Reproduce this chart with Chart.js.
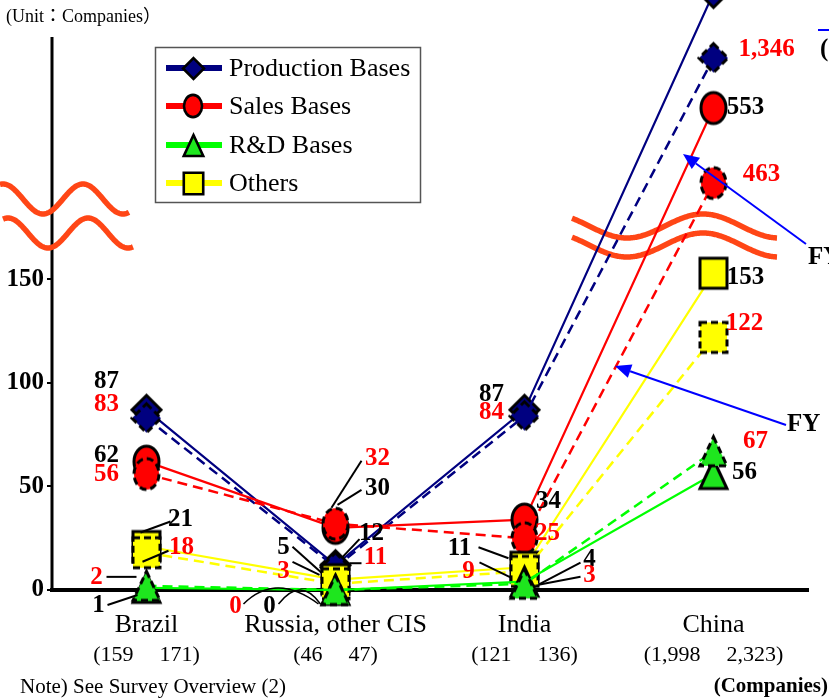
<!DOCTYPE html>
<html>
<head>
<meta charset="utf-8">
<script src="https://cdn.jsdelivr.net/npm/chart.js@4/dist/chart.umd.min.js"></script>
<style>
  html, body { margin: 0; padding: 0; background: #fff; }
  #wrap { width: 829px; height: 700px; position: relative; }
</style>
</head>
<body>
<div id="wrap"><canvas id="chart" width="829" height="700"></canvas></div>
<script>
// ---- data ----
const categories = ['Brazil', 'Russia, other CIS', 'India', 'China'];
const companiesPrevFY = [159, 46, 121, 1998];
const companiesCurrFY = [171, 47, 136, 2323];
const productionPrevFY = [83, 11, 84, 1346];
const productionCurrFY = [87, 12, 87, 1560];
const salesPrevFY = [56, 32, 25, 463];
const salesCurrFY = [62, 30, 34, 553];
const rndPrevFY = [2, 0, 3, 67];
const rndCurrFY = [1, 0, 4, 56];
const othersPrevFY = [18, 3, 9, 122];
const othersCurrFY = [21, 5, 11, 153];
const yTickValues = [0, 50, 100, 150];
const seriesNames = ['Production Bases', 'Sales Bases', 'R&D Bases', 'Others'];

// ---- styling ----
const SERIF = '"Liberation Serif", "Times New Roman", serif';
const series = [
  { key: 'production', name: seriesNames[0], line: '#000080', fill: '#000080', shape: 'diamond', prev: productionPrevFY, curr: productionCurrFY },
  { key: 'sales',      name: seriesNames[1], line: '#ff0000', fill: '#ff0000', shape: 'ellipse', prev: salesPrevFY,      curr: salesCurrFY },
  { key: 'rnd',        name: seriesNames[2], line: '#00ff00', fill: '#1ee61e', shape: 'triangle', prev: rndPrevFY,       curr: rndCurrFY },
  { key: 'others',     name: seriesNames[3], line: '#ffff00', fill: '#ffff00', shape: 'square', prev: othersPrevFY,     curr: othersCurrFY }
];
// draw order: R&D on top, production at the bottom; previous FY markers over current FY
const drawOrder = { rnd: 0, others: 2, sales: 4, production: 6 };

const markerDims = {
  diamond:  { w: 29, h: 29 },
  ellipse:  { w: 25, h: 31 },
  triangle: { w: 27, h: 29 },
  square:   { w: 27, h: 30 }
};

function markerCanvas(shape, fill, dashed, k) {
  const d = markerDims[shape];
  const w = d.w * k, h = d.h * k, lw = k < 1 ? 2.6 : 3;
  const c = document.createElement('canvas');
  c.width = Math.ceil(w + lw * 2 + 2);
  c.height = Math.ceil(h + lw * 2 + 2);
  const g = c.getContext('2d');
  const cx = c.width / 2, cy = c.height / 2;
  g.beginPath();
  if (shape === 'diamond') {
    g.moveTo(cx, cy - h / 2); g.lineTo(cx + w / 2, cy); g.lineTo(cx, cy + h / 2); g.lineTo(cx - w / 2, cy); g.closePath();
  } else if (shape === 'ellipse') {
    g.ellipse(cx, cy, w / 2, h / 2, 0, 0, Math.PI * 2);
  } else if (shape === 'triangle') {
    g.moveTo(cx, cy - h / 2); g.lineTo(cx + w / 2, cy + h / 2); g.lineTo(cx - w / 2, cy + h / 2); g.closePath();
  } else {
    g.rect(cx - w / 2, cy - h / 2, w, h);
  }
  g.fillStyle = fill;
  g.fill();
  g.lineWidth = lw;
  g.strokeStyle = '#000';
  g.lineJoin = 'miter';
  if (dashed) g.setLineDash([7, 4]);
  g.stroke();
  return c;
}

// ---- value axis with a compressed segment above the break ----
// stops: [value, fraction of the plot height measured from the bottom]
const yAxisStops = [[0, 0], [170, 0.5966], [450, 0.6714], [560, 0.8268], [1300, 0.878], [1700, 1.084]];

class BrokenLinearScale extends Chart.LinearScale {
  static id = 'brokenLinear';
  static defaults = {};
  _stops() { return this.options.stops || yAxisStops; }
  _fraction(value) {
    const s = this._stops();
    if (value <= s[0][0]) return s[0][1];
    for (let i = 1; i < s.length; i++) {
      const [v0, f0] = s[i - 1], [v1, f1] = s[i];
      if (value <= v1) return f0 + (value - v0) / (v1 - v0) * (f1 - f0);
    }
    const [va, fa] = s[s.length - 2], [vb, fb] = s[s.length - 1];
    return fb + (value - vb) / (vb - va) * (fb - fa);
  }
  getPixelForValue(value) {
    return this.bottom - this._fraction(value) * (this.bottom - this.top);
  }
  getValueForPixel(pixel) {
    const f = (this.bottom - pixel) / (this.bottom - this.top);
    const s = this._stops();
    for (let i = 1; i < s.length; i++) {
      const [v0, f0] = s[i - 1], [v1, f1] = s[i];
      if (f <= f1) return v0 + (f - f0) / (f1 - f0) * (v1 - v0);
    }
    return s[s.length - 1][0];
  }
}
Chart.register(BrokenLinearScale);

// ---- value label layout (offsets from the marker, pixels) ----
const labelLayout = {
  production: {
    curr: [{ dx: -40, dy: -28 }, { dx: 36, dy: -32, lead: [6, -7, 24, -26] }, { dx: -33, dy: -15 }, null],
    prev: [{ dx: -40, dy: -14 }, { dx: 40, dy: -10, lead: [14, -4, 26, -4] }, { dx: -33, dy: -4 }, { dx: 53, dy: -8 }]
  },
  sales: {
    curr: [{ dx: -40, dy: -6 }, { dx: 42, dy: -39, lead: [2, -23, 26, -38] }, { dx: 24, dy: -18 }, { dx: 32, dy: 0 }],
    prev: [{ dx: -40, dy: 0 }, { dx: 42, dy: -65, lead: [-4, -16, 26, -63] }, { dx: 23, dy: -5 }, { dx: 48, dy: -8 }]
  },
  rnd: {
    curr: [{ dx: -48, dy: 18, lead: [-39, 17, -9, 7] }, { dx: -66, dy: 17, curve: [-57, 14, -35, -14, -15, 14] },
           { dx: 65, dy: -22, lead: [14, 3, 56, -19] }, { dx: 31, dy: -2 }],
    prev: [{ dx: -50, dy: -8, lead: [-40, -9, -10, -9] }, { dx: -100, dy: 17, curve: [-92, 14, -60, -18, -17, 14] },
           { dx: 65, dy: -8, lead: [14, 1, 56, -7] }, { dx: 42, dy: -10 }]
  },
  others: {
    curr: [{ dx: 34, dy: -27, lead: [-6, -14, 24, -25] }, { dx: -52, dy: -32, lead: [-43, -33, -14, -7] },
           { dx: -65, dy: -19, lead: [-46, -20, -16, -9] }, { dx: 32, dy: 4 }],
    prev: [{ dx: 35, dy: -5, lead: [-4, 9, 22, -2] }, { dx: -52, dy: -12, lead: [-43, -22, -16, -9] },
           { dx: -56, dy: 0, lead: [-45, -9, -14, 6] }, { dx: 31, dy: -14 }]
  }
};

// ---- datasets ----
const datasets = [];
series.forEach(s => {
  ['curr', 'prev'].forEach(fy => {
    const dashed = fy === 'prev';
    datasets.push({
      label: s.name + (dashed ? ' (previous FY)' : ''),
      data: s[fy],
      seriesKey: s.key,
      fy: fy,
      borderColor: s.line,
      borderWidth: dashed ? 2.5 : 2.2,
      borderDash: dashed ? [10, 6] : [],
      pointStyle: markerCanvas(s.shape, s.fill, dashed, 1),
      pointRadius: 25,
      pointBorderWidth: 0,
      pointHoverRadius: 25,
      tension: 0,
      fill: false,
      clip: false,
      order: drawOrder[s.key] + (dashed ? 0 : 1)
    });
  });
});

function wavePath(ctx, x0, x1, c, A, P, crestX) {
  ctx.beginPath();
  for (let x = x0; x <= x1; x += 1) {
    const y = c - A * Math.cos(2 * Math.PI * (x - crestX) / P);
    if (x === x0) ctx.moveTo(x, y); else ctx.lineTo(x, y);
  }
  ctx.stroke();
}

function arrow(ctx, x1, y1, x2, y2) {
  ctx.save();
  ctx.strokeStyle = '#0000ff';
  ctx.fillStyle = '#0000ff';
  ctx.lineWidth = 2;
  const ang = Math.atan2(y2 - y1, x2 - x1);
  const hl = 16, hw = 7;
  const bx = x2 - hl * Math.cos(ang), by = y2 - hl * Math.sin(ang);
  ctx.beginPath(); ctx.moveTo(x1, y1); ctx.lineTo(bx, by); ctx.stroke();
  ctx.beginPath();
  ctx.moveTo(x2, y2);
  ctx.lineTo(bx + hw * Math.sin(ang), by - hw * Math.cos(ang));
  ctx.lineTo(bx - hw * Math.sin(ang), by + hw * Math.cos(ang));
  ctx.closePath(); ctx.fill();
  ctx.restore();
}

const decorations = {
  id: 'decorations',
  beforeDatasetsDraw(chart) {
    const { ctx, chartArea } = chart;
    ctx.save();
    // value axis line
    ctx.strokeStyle = '#000';
    ctx.lineWidth = 3;
    ctx.beginPath();
    ctx.moveTo(chartArea.left, 37);
    ctx.lineTo(chartArea.left, chartArea.bottom);
    ctx.stroke();
    // axis break marks
    ctx.strokeStyle = '#ff4616';
    ctx.lineWidth = 5.5;
    ctx.lineCap = 'butt';
    wavePath(ctx, 0, 129, 199, 15, 80, 83);
    wavePath(ctx, 3, 133, 233, 15, 80, 88);
    wavePath(ctx, 572, 777, 226, 12, 152, 703);
    wavePath(ctx, 572, 777, 245, 12, 152, 703);
    ctx.restore();
  },
  afterDatasetsDraw(chart) {
    const { ctx } = chart;
    const xScale = chart.scales.x;
    ctx.save();

    // value labels with leader lines
    chart.data.datasets.forEach((ds, di) => {
      const meta = chart.getDatasetMeta(di);
      const layout = labelLayout[ds.seriesKey][ds.fy];
      meta.data.forEach((pt, i) => {
        const L = layout[i];
        if (!L) return;
        ctx.strokeStyle = '#000';
        ctx.lineWidth = 2;
        if (L.lead) {
          ctx.beginPath();
          ctx.moveTo(pt.x + L.lead[0], pt.y + L.lead[1]);
          ctx.lineTo(pt.x + L.lead[2], pt.y + L.lead[3]);
          ctx.stroke();
        }
        if (L.curve) {
          ctx.lineWidth = 1.5;
          ctx.beginPath();
          ctx.moveTo(pt.x + L.curve[0], pt.y + L.curve[1]);
          ctx.quadraticCurveTo(pt.x + L.curve[2], pt.y + L.curve[3], pt.x + L.curve[4], pt.y + L.curve[5]);
          ctx.stroke();
        }
        ctx.fillStyle = ds.fy === 'prev' ? '#ff0000' : '#000';
        ctx.font = 'bold 25px ' + SERIF;
        ctx.textAlign = 'center';
        ctx.textBaseline = 'middle';
        ctx.fillText(ds.data[i].toLocaleString('en-US'), pt.x + L.dx, pt.y + L.dy);
      });
    });

    // company totals under each region
    ctx.fillStyle = '#000';
    ctx.font = '22px ' + SERIF;
    ctx.textBaseline = 'middle';
    categories.forEach((c, i) => {
      const x = xScale.getPixelForTick(i);
      ctx.textAlign = 'right';
      ctx.fillText('(' + companiesPrevFY[i].toLocaleString('en-US'), x - 13, 655);
      ctx.textAlign = 'left';
      ctx.fillText(companiesCurrFY[i].toLocaleString('en-US') + ')', x + 13, 655);
    });

    // fiscal year pointers
    arrow(ctx, 806, 244, 683, 154);
    arrow(ctx, 786, 425, 615, 366);
    ctx.fillStyle = '#000';
    ctx.font = 'bold 25px ' + SERIF;
    ctx.textAlign = 'left';
    ctx.textBaseline = 'middle';
    ctx.fillText('FY', 808, 258);
    ctx.fillText('FY', 787, 425);
    ctx.strokeStyle = '#0000ff';
    ctx.lineWidth = 2;
    ctx.beginPath(); ctx.moveTo(818, 30); ctx.lineTo(829, 30); ctx.stroke();
    ctx.fillText('(', 820, 50);

    // legend
    ctx.fillStyle = '#fff';
    ctx.fillRect(155.5, 47.5, 265, 155);
    ctx.strokeStyle = '#555';
    ctx.lineWidth = 1.5;
    ctx.strokeRect(155.5, 47.5, 265, 155);
    const rows = [68, 106, 145, 183];
    series.forEach((s, i) => {
      const y = rows[i];
      ctx.strokeStyle = s.line;
      ctx.lineWidth = 6;
      ctx.beginPath(); ctx.moveTo(166, y); ctx.lineTo(222, y); ctx.stroke();
      const m = markerCanvas(s.shape, s.fill, false, 0.72);
      ctx.drawImage(m, Math.round(193 - m.width / 2), Math.round(y - m.height / 2));
      ctx.fillStyle = '#000';
      ctx.font = '26px ' + SERIF;
      ctx.textAlign = 'left';
      ctx.textBaseline = 'middle';
      ctx.fillText(s.name, 229, y + 1);
    });

    // unit and notes
    ctx.fillStyle = '#000';
    ctx.font = '18px ' + SERIF + ', "Noto Sans CJK JP"';
    ctx.textAlign = 'left';
    ctx.textBaseline = 'middle';
    ctx.fillText('(Unit：Companies）', 6, 17);
    ctx.font = '21px ' + SERIF;
    ctx.fillText('Note) See Survey Overview (2)', 20, 687);
    ctx.font = 'bold 21px ' + SERIF;
    ctx.textAlign = 'right';
    ctx.fillText('(Companies)', 828, 687);
    ctx.restore();
  }
};

new Chart(document.getElementById('chart'), {
  type: 'line',
  data: { labels: categories, datasets },
  options: {
    responsive: false,
    animation: false,
    events: [],
    layout: { autoPadding: false, padding: { top: 0, left: 0, right: 21, bottom: 0 } },
    plugins: { legend: { display: false }, tooltip: { enabled: false } },
    scales: {
      x: {
        type: 'category',
        offset: true,
        grid: { display: false, drawTicks: false },
        border: { display: true, color: '#000', width: 4 },
        ticks: { color: '#000', font: { family: SERIF, size: 26 }, padding: 20, autoSkip: false, maxRotation: 0 },
        afterFit: s => { s.height = 110; s.paddingLeft = 0; s.paddingRight = 0; }
      },
      y: {
        type: 'brokenLinear',
        stops: yAxisStops,
        min: 0,
        max: 170,
        grid: { display: true, drawOnChartArea: false, drawTicks: true, tickLength: 5, color: '#000', lineWidth: 2 },
        border: { display: false },
        ticks: { color: '#000', font: { family: SERIF, size: 25, weight: 'bold' }, padding: 3 },
        afterBuildTicks: s => { s.ticks = yTickValues.map(v => ({ value: v })); },
        afterFit: s => { s.width = 52; s.paddingTop = 0; s.paddingBottom = 0; }
      }
    }
  },
  plugins: [decorations]
});
</script>
</body>
</html>
